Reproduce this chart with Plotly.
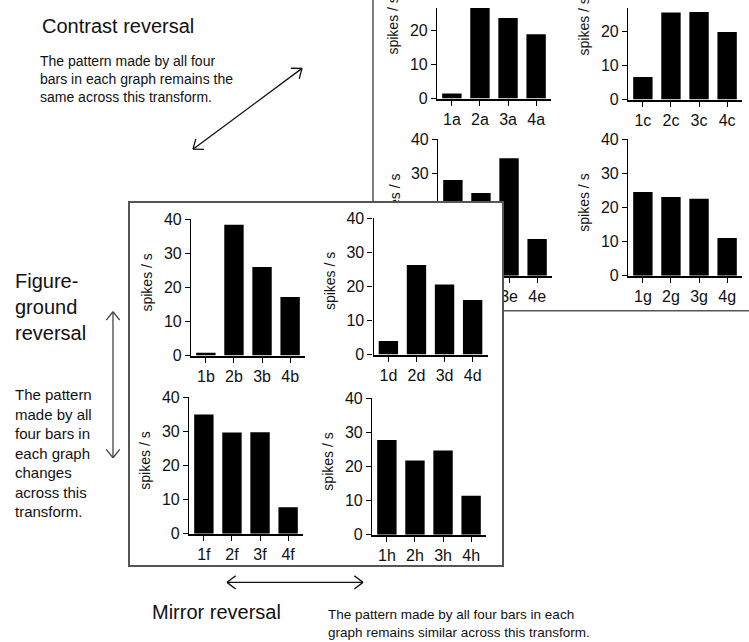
import math
import plotly.graph_objects as go

# ---- firing rates (spikes / s) for the four stimuli in each graph ----
cats_a = ["1a", "2a", "3a", "4a"]
rate_a = [1.5, 34.0, 23.6, 18.9]
cats_b = ["1b", "2b", "3b", "4b"]
rate_b = [0.8, 38.4, 26.0, 17.2]
cats_c = ["1c", "2c", "3c", "4c"]
rate_c = [6.6, 25.5, 25.7, 19.8]
cats_d = ["1d", "2d", "3d", "4d"]
rate_d = [4.0, 26.3, 20.6, 16.0]
cats_e = ["1e", "2e", "3e", "4e"]
rate_e = [28.1, 24.3, 34.5, 10.8]
cats_f = ["1f", "2f", "3f", "4f"]
rate_f = [35.0, 29.7, 29.8, 7.8]
cats_g = ["1g", "2g", "3g", "4g"]
rate_g = [24.6, 23.1, 22.6, 11.1]
cats_h = ["1h", "2h", "3h", "4h"]
rate_h = [27.8, 21.8, 24.7, 11.4]
y_ticks = [0, 10, 20, 30, 40]
y_title = "spikes / s"

# ---- page geometry (pixels) ----
W, H = 749, 642
FONT = "Liberation Sans, Arial, Helvetica, sans-serif"
INK = "#111111"
PX_PER_UNIT = 3.5          # vertical pixels per spike/s
PLOT_W = 114               # width of one small graph
X_RANGE = [-0.53, 3.53]
TICK_SIZE = 16
TITLE_SIZE = 14


def fx(px):
    return px / W


def fy(py):
    return 1 - py / H


# subplot order sets the stacking: back sheet graphs, front sheet, front graphs
# (categories, values, y-axis x position, zero-line y position, title drawn under front sheet)
back_graphs = [
    (cats_a, rate_a, 437, 93, False),
    (cats_c, rate_c, 628, 94, False),
    (cats_e, rate_e, 438, 275, True),
    (cats_g, rate_g, 628, 275, False),
]
front_graphs = [
    (cats_b, rate_b, 191, 357, False),
    (cats_d, rate_d, 373.5, 356, False),
    (cats_f, rate_f, 189, 540, False),
    (cats_h, rate_h, 372, 541, False),
]

fig = go.Figure()
axes = {}
annotations = []
shapes = []


def add_graph(n, cats, vals, x0, yb, under_sheet):
    sfx = "" if n == 1 else str(n)
    top_px = yb - 40 * PX_PER_UNIT
    y_top = 40
    if top_px < 0:
        y_top = yb / PX_PER_UNIT
        top_px = 0
    fig.add_trace(go.Bar(
        x=cats, y=vals, xaxis="x" + sfx, yaxis="y" + sfx, width=0.69,
        marker=dict(color="black", line=dict(width=0)), showlegend=False,
    ))
    axes["xaxis" + sfx] = dict(
        domain=[fx(x0), fx(x0 + PLOT_W)], anchor="y" + sfx, type="category",
        range=X_RANGE, showline=True, linecolor="black", linewidth=2,
        ticks="outside", ticklen=5, tickwidth=1, tickcolor="black",
        tickfont=dict(family=FONT, size=TICK_SIZE, color=INK),
        showgrid=False, zeroline=False, fixedrange=True,
    )
    axes["yaxis" + sfx] = dict(
        domain=[fy(yb), fy(top_px)], anchor="x" + sfx, range=[0, y_top],
        tickmode="array", tickvals=y_ticks, showline=True, linecolor="black",
        linewidth=1.2, ticks="outside", ticklen=5, tickwidth=1, tickcolor="black",
        tickfont=dict(family=FONT, size=TICK_SIZE, color=INK),
        showgrid=False, zeroline=False, fixedrange=True,
    )
    cx, cy = x0 - 44, yb - 75
    if under_sheet:
        # drawn in the lowest layer so the front sheet hides its lower part
        shapes.append(dict(
            type="rect", xref="paper", yref="paper",
            x0=fx(cx - 9), x1=fx(cx + 9), y0=fy(cy + 40), y1=fy(cy - 40),
            line=dict(width=0), fillcolor="rgba(0,0,0,0)", layer="below",
            label=dict(text=y_title, textangle=-90, textposition="middle center",
                       font=dict(family=FONT, size=TITLE_SIZE, color=INK)),
        ))
    else:
        annotations.append(dict(
            text=y_title, x=fx(cx), y=fy(cy), xref="paper", yref="paper",
            textangle=-90, xanchor="center", yanchor="middle", showarrow=False,
            font=dict(family=FONT, size=TITLE_SIZE, color=INK),
        ))


n = 1
for g in back_graphs:
    add_graph(n, *g)
    n += 1

# front sheet: an empty subplot whose white background covers the back sheet
sheet = str(n)
fig.add_trace(go.Scatter(
    x=[0.5], y=[0.5], xaxis="x" + sheet, yaxis="y" + sheet, mode="markers",
    marker=dict(opacity=0), hoverinfo="skip", showlegend=False,
))
sheet_axis = dict(showline=True, mirror=True, linecolor="#555555", linewidth=1.5,
                  showticklabels=False, ticks="", showgrid=False, zeroline=False,
                  range=[0, 1], fixedrange=True)
axes["xaxis" + sheet] = dict(domain=[fx(130), fx(502)], anchor="y" + sheet, **sheet_axis)
axes["yaxis" + sheet] = dict(domain=[fy(572), fy(200)], anchor="x" + sheet, **sheet_axis)
n += 1

for g in front_graphs:
    add_graph(n, *g)
    n += 1

# back sheet outline (runs off the top and right of the page)
shapes.append(dict(
    type="rect", xref="paper", yref="paper", x0=fx(373), x1=1.05,
    y0=fy(311), y1=1.05, line=dict(color="#555555", width=1.5),
    fillcolor="rgba(0,0,0,0)", layer="below",
))


def text_note(text, x, y, size, yanchor="middle"):
    annotations.append(dict(
        text=text, x=fx(x), y=fy(y), xref="paper", yref="paper",
        xanchor="left", yanchor=yanchor, align="left", showarrow=False,
        font=dict(family=FONT, size=size, color=INK),
    ))


def seg(x0, y0, x1, y1, color, width):
    shapes.append(dict(
        type="line", xref="paper", yref="paper",
        x0=fx(x0), y0=fy(y0), x1=fx(x1), y1=fy(y1),
        line=dict(color=color, width=width), layer="above",
    ))


def double_arrow(xa, ya, xb, yb, color, arm=11, spread=38, width=1.3):
    """Straight shaft with an open chevron head at each end."""
    seg(xa, ya, xb, yb, color, width)
    for (px, py), (qx, qy) in (((xa, ya), (xb, yb)), ((xb, yb), (xa, ya))):
        ang = math.atan2(qy - py, qx - px)   # direction back along the shaft
        for s in (-1, 1):
            a = ang + s * math.radians(spread)
            seg(px, py, px + arm * math.cos(a), py + arm * math.sin(a), color, width)


text_note("Contrast reversal", 40, 19, 20)
text_note("The pattern made by all four<br>bars in each graph remains the<br>same across this transform.",
          38, 44, 14, yanchor="top")
double_arrow(302, 62, 193, 145, "#111111")

text_note("Figure-<br>ground<br>reversal", 13, 267, 20, yanchor="top")
text_note("The pattern<br>made by all<br>four bars in<br>each graph<br>changes<br>across this<br>transform.",
          13, 386, 15, yanchor="top")
double_arrow(113, 312, 113, 462, "#444444")

text_note("Mirror reversal", 150, 620, 20)
double_arrow(363, 590, 227, 590, "#111111")
text_note("The pattern made by all four bars in each<br>graph remains similar across this transform.",
          326, 613, 13.5, yanchor="top")

fig.update_layout(
    width=W, height=H, autosize=False,
    margin=dict(l=0, r=0, t=0, b=0, pad=0),
    paper_bgcolor="white", plot_bgcolor="white",
    font=dict(family=FONT, color=INK),
    showlegend=False, bargap=0.31,
    annotations=annotations, shapes=shapes,
    **axes,
)

fig.write_html("out.html")
